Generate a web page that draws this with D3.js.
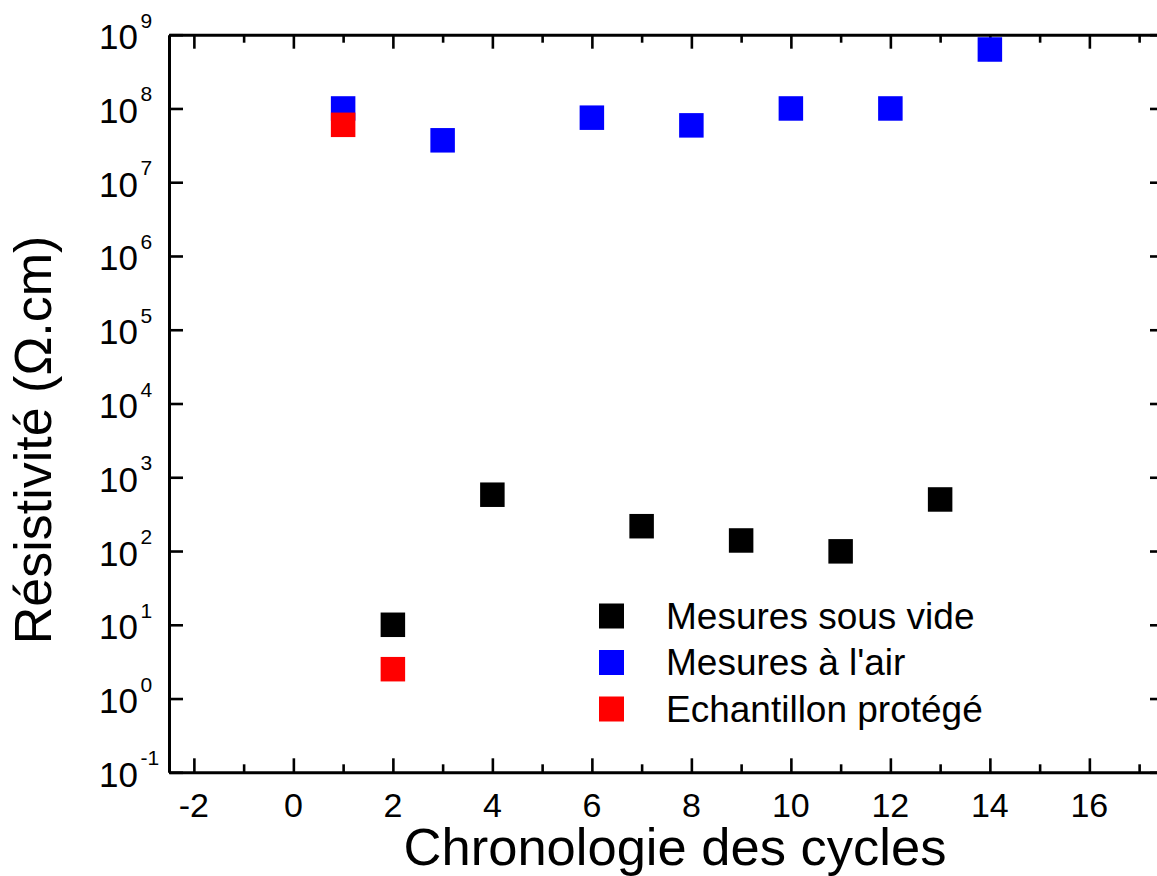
<!DOCTYPE html>
<html>
<head>
<meta charset="utf-8">
<script src="https://cdn.jsdelivr.net/npm/d3@7"></script>
<style>
  html, body { margin: 0; padding: 0; background: #fff; }
  svg { display: block; }
  text { font-family: "Liberation Sans", Arial, sans-serif; fill: #000; }
</style>
</head>
<body>
<svg id="chart" width="1157" height="876"></svg>
<script>
// ---- data ----
const vacuumX = [2, 4, 7, 9, 11, 13];
const vacuumY = [10, 580, 217, 139, 99, 500];
const airX = [1, 3, 6, 8, 10, 12, 14];
const airY = [1.0e8, 3.7e7, 7.5e7, 5.9e7, 1.0e8, 1.0e8, 6.3e8];
const protX = [1, 2];
const protY = [6.0e7, 2.5];
const seriesNames = ["Mesures sous vide", "Mesures à l'air", "Echantillon protégé"];
const seriesColors = ["#000000", "#0000ff", "#ff0000"];
const xTickValues = [-2, 0, 2, 4, 6, 8, 10, 12, 14, 16];
const xMinorTicks = [-1, 1, 3, 5, 7, 9, 11, 13, 15, 17];
const yExponents = [-1, 0, 1, 2, 3, 4, 5, 6, 7, 8, 9];
const xTitle = "Chronologie des cycles";
const yTitle = "Résistivité (Ω.cm)";

// ---- layout ----
const L = 169, R = 1164, T = 34.7, B = 772.3;
const svg = d3.select("#chart");
const x = d3.scaleLinear().domain([-2.5, 17.5]).range([L, R]);
const y = d3.scaleLog().domain([0.1, 1e9]).range([B, T]);

const majorLen = 14, minorLen = 8, yMinorLen = 7;
const allX = xTickValues.concat(xMinorTicks).sort((a, b) => a - b);
const isMajorX = v => xTickValues.includes(v);
const yAll = y.ticks(); // 1..9 per decade
const isMajorY = v => Math.abs(Math.log10(v) - Math.round(Math.log10(v))) < 1e-9;

function styleAxis(g, lenFn, dir) {
  g.select(".domain").attr("stroke", "#000").attr("stroke-width", 3);
  g.selectAll(".tick line").attr("stroke", "#000").attr("stroke-width", 2.6)
    .each(function(d) {
      const len = lenFn(d);
      const sel = d3.select(this);
      if (dir === "x2") sel.attr("y2", len);
      else sel.attr("x2", len);
    });
  g.selectAll(".tick text").remove();
}

// bottom
const gB = svg.append("g").attr("transform", `translate(0,${B})`)
  .call(d3.axisBottom(x).tickValues(allX).tickSizeInner(-majorLen).tickSizeOuter(0).tickFormat(""));
styleAxis(gB, d => isMajorX(d) ? -majorLen : -minorLen, "x2");
// top
const gT = svg.append("g").attr("transform", `translate(0,${T})`)
  .call(d3.axisTop(x).tickValues(allX).tickSizeInner(-majorLen).tickSizeOuter(0).tickFormat(""));
styleAxis(gT, d => isMajorX(d) ? majorLen : minorLen, "x2");
// left
const gL = svg.append("g").attr("transform", `translate(${L},0)`)
  .call(d3.axisLeft(y).tickValues(yAll).tickSizeInner(-majorLen).tickSizeOuter(0).tickFormat(""));
styleAxis(gL, d => isMajorY(d) ? majorLen : yMinorLen, "y2");
// right
const gR = svg.append("g").attr("transform", `translate(${R},0)`)
  .call(d3.axisRight(y).tickValues(yAll).tickSizeInner(-majorLen).tickSizeOuter(0).tickFormat(""));
styleAxis(gR, d => isMajorY(d) ? -majorLen : -yMinorLen, "y2");

// x tick labels
svg.append("g").selectAll("text").data(xTickValues).join("text")
  .attr("x", d => x(d)).attr("y", B + 45)
  .attr("text-anchor", "middle").attr("font-size", 34)
  .text(d => String(d));

// y tick labels: 10^n
const yl = svg.append("g").selectAll("g").data(yExponents).join("g");
yl.append("text")
  .attr("x", 138).attr("y", d => y(Math.pow(10, d)) + 14.5)
  .attr("text-anchor", "end").attr("font-size", 35).text("10");
yl.append("text")
  .attr("x", 140.5).attr("y", d => y(Math.pow(10, d)) - 7)
  .attr("text-anchor", "start").attr("font-size", 21).text(d => String(d));

// data markers
const S = 24.5;
function drawSeries(xs, ys, color) {
  svg.append("g").selectAll("rect").data(xs.map((v, i) => [v, ys[i]])).join("rect")
    .attr("x", d => x(d[0]) - S / 2).attr("y", d => y(d[1]) - S / 2)
    .attr("width", S).attr("height", S).attr("fill", color);
}
drawSeries(airX, airY, seriesColors[1]);
drawSeries(protX, protY, seriesColors[2]);
drawSeries(vacuumX, vacuumY, seriesColors[0]);

// legend
const legendY = [616, 662.5, 709];
const lg = svg.append("g").selectAll("g").data(seriesNames).join("g");
lg.append("rect")
  .attr("x", 599).attr("y", (d, i) => legendY[i] - 12.5)
  .attr("width", 25).attr("height", 25).attr("fill", (d, i) => seriesColors[i]);
lg.append("text")
  .attr("x", 666).attr("y", (d, i) => legendY[i] + 12.5)
  .attr("font-size", 37).text(d => d);

// axis titles
svg.append("text").attr("x", 675).attr("y", 865)
  .attr("text-anchor", "middle").attr("font-size", 52.5).text(xTitle);
svg.append("text").attr("transform", "translate(51,440) rotate(-90)")
  .attr("text-anchor", "middle").attr("font-size", 52).text(yTitle);
</script>
</body>
</html>
